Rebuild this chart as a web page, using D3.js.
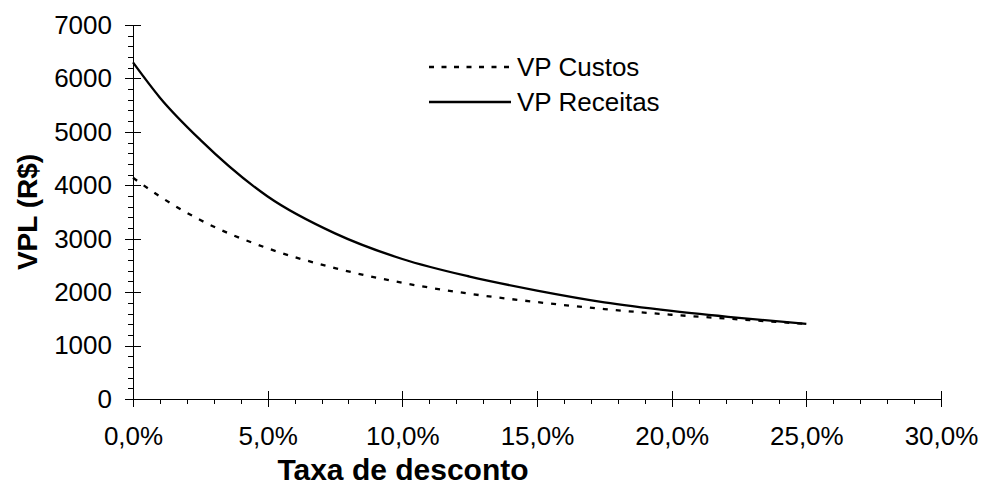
<!DOCTYPE html>
<html>
<head>
<meta charset="utf-8">
<script src="https://cdn.jsdelivr.net/npm/d3@7"></script>
<style>
  body { margin: 0; background: #fff; }
  svg { font-family: "Liberation Sans", Arial, sans-serif; }
  .axis path, .axis line { stroke: #000; shape-rendering: crispEdges; }
  .axis text { font-family: "Liberation Sans", Arial, sans-serif; font-size: 26px; fill: #000; }
</style>
</head>
<body>
<div id="chart"></div>
<script>
// taxa de desconto (fração) e valores presentes
const taxas = [0, 0.01, 0.025, 0.05, 0.075, 0.10, 0.125, 0.15, 0.175, 0.20, 0.225, 0.25];
const vpCustos = [4140, 3790, 3350, 2820, 2450, 2175, 1970, 1814, 1683, 1577, 1490, 1405];
const vpReceitas = [6300, 5640, 4850, 3790, 3100, 2620, 2290, 2030, 1810, 1650, 1520, 1405];
const xTicks = [0, 0.05, 0.10, 0.15, 0.20, 0.25, 0.30];
const yTicks = [0, 1000, 2000, 3000, 4000, 5000, 6000, 7000];
const seriesNames = ['VP Custos', 'VP Receitas'];

const width = 982, height = 494;
const margin = { left: 133, right: 41, top: 25, bottom: 95 };

const x_scale = d3.scaleLinear().domain([0, 0.30]).range([margin.left, width - margin.right]);
const y_scale = d3.scaleLinear().domain([0, 7000]).range([height - margin.bottom, margin.top]);

const ptBR = d3.formatLocale({ decimal: ',', thousands: '.', grouping: [3], currency: ['R$ ', ''] });
const fmtPct = ptBR.format('.1%');

const svg = d3.select('#chart').append('svg')
  .attr('width', width)
  .attr('height', height);

// eixo x: ticks menores a cada 1%
svg.append('g')
  .attr('class', 'axis')
  .attr('transform', 'translate(0,' + y_scale(0) + ')')
  .call(d3.axisBottom(x_scale).tickValues(d3.range(0, 31).map(d => d / 100)).tickSize(5).tickFormat(''))
  .call(g => g.select('.domain').remove());

const gx = svg.append('g')
  .attr('class', 'axis')
  .attr('transform', 'translate(0,' + y_scale(0) + ')')
  .call(d3.axisBottom(x_scale).tickValues(xTicks).tickSizeOuter(0).tickSize(8).tickPadding(20).tickFormat(fmtPct));
gx.selectAll('.tick line').attr('y1', -8);

// eixo y: ticks menores a cada 200
svg.append('g')
  .attr('class', 'axis')
  .attr('transform', 'translate(' + x_scale(0) + ',0)')
  .call(d3.axisLeft(y_scale).tickValues(d3.range(0, 7001, 200)).tickSize(5).tickFormat(''))
  .call(g => g.select('.domain').remove());

const gy = svg.append('g')
  .attr('class', 'axis')
  .attr('transform', 'translate(' + x_scale(0) + ',0)')
  .call(d3.axisLeft(y_scale).tickValues(yTicks).tickSizeOuter(0).tickSize(8).tickPadding(13).tickFormat(d3.format('d')));
gy.selectAll('.tick line').attr('x1', 8);

// curvas
const line = d3.line()
  .x((d, i) => x_scale(taxas[i]))
  .y(d => y_scale(d))
  .curve(d3.curveMonotoneX);

svg.append('path')
  .datum(vpCustos)
  .attr('d', line)
  .attr('fill', 'none')
  .attr('stroke', '#000')
  .attr('stroke-width', 2.3)
  .attr('stroke-dasharray', '5,8');

svg.append('path')
  .datum(vpReceitas)
  .attr('d', line)
  .attr('fill', 'none')
  .attr('stroke', '#000')
  .attr('stroke-width', 2.3);

// legenda
const legend = svg.append('g').attr('transform', 'translate(429,67)');
seriesNames.forEach((name, i) => {
  const row = legend.append('g').attr('transform', 'translate(0,' + (i * 35) + ')');
  row.append('line')
    .attr('x1', 0).attr('x2', 82)
    .attr('stroke', '#000')
    .attr('stroke-width', 2.3)
    .attr('stroke-dasharray', i === 0 ? '5,7.5' : null);
  row.append('text')
    .attr('x', 88)
    .attr('dy', '0.36em')
    .style('font-size', '26px')
    .text(name);
});

// títulos dos eixos
svg.append('text')
  .attr('x', 403)
  .attr('y', 480)
  .attr('text-anchor', 'middle')
  .style('font-size', '30px')
  .style('font-weight', 'bold')
  .text('Taxa de desconto');

svg.append('text')
  .attr('transform', 'translate(37,' + ((y_scale(0) + y_scale(7000)) / 2) + ') rotate(-90)')
  .attr('text-anchor', 'middle')
  .style('font-size', '28px')
  .style('font-weight', 'bold')
  .text('VPL (R$)');
</script>
</body>
</html>
